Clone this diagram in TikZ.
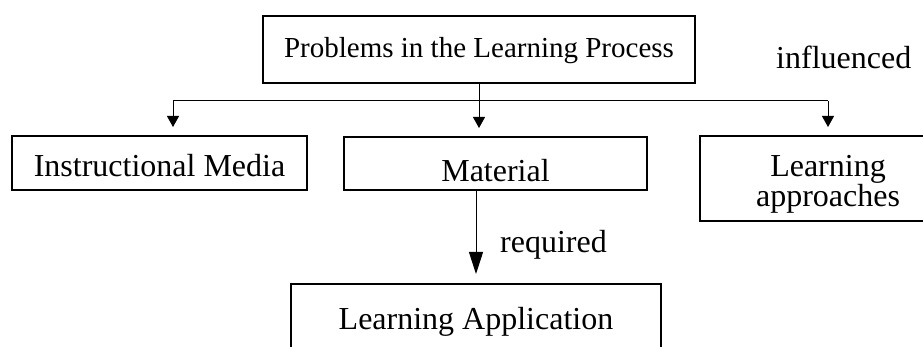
\documentclass[tikz,border=0pt]{standalone}
\usepackage{fontspec}
\setmainfont{Liberation Serif}
\usetikzlibrary{arrows.meta}
\begin{document}
\begin{tikzpicture}[x=1pt,y=-1pt,
  box/.style={draw,line width=2pt,inner sep=0pt,font=\fontsize{32}{27}\selectfont},
  link/.style={line width=1pt},
  arr/.style={link,-{Triangle[length=11pt,width=12pt]},shorten >=8pt},
  bigarr/.style={link,-{Triangle[length=22pt,width=14pt]},shorten >=9pt},
  note/.style={anchor=base west,inner sep=0pt,font=\fontsize{32}{38}\selectfont}]
\useasboundingbox (0,0) rectangle (923,347);

% boxes
\node[box,minimum width=432pt,minimum height=67pt,font=\fontsize{29}{34}\selectfont,
      text height=20pt,text depth=3pt] (prob) at (479,49.5) {Problems in the Learning Process};
\node[box,minimum width=295pt,minimum height=54pt,text height=28pt,text depth=0pt]
      (im) at (159.5,163) {Instructional Media};
\node[box,minimum width=303pt,minimum height=53pt,text height=37pt,text depth=0pt]
      (mat) at (495.5,163.5) {Material};
\node[box,minimum width=256pt,minimum height=85pt,align=center,text height=57pt,text depth=0pt]
      (app) at (828,178.5) {Learning\\approaches};
\node[box,minimum width=370pt,minimum height=84pt,text height=14pt,text depth=8pt]
      (la) at (476,326) {Learning Application};

% branching connectors
\coordinate (hl) at (173,101);
\coordinate (hr) at (828,101);
\draw[link] (hl) -- (hr);
\draw[arr] (prob.south) -- (prob.south |- mat.north);
\draw[arr] (hl) -- (hl |- im.north);
\draw[arr] (hr) -- (hr |- app.north);
\draw[bigarr] (la.north |- mat.south) -- (la.north);

% labels
\node[note] (req) at (500,253) {required};
\node[note] (inf) at (776,69) {influenced};
\end{tikzpicture}
\end{document}
